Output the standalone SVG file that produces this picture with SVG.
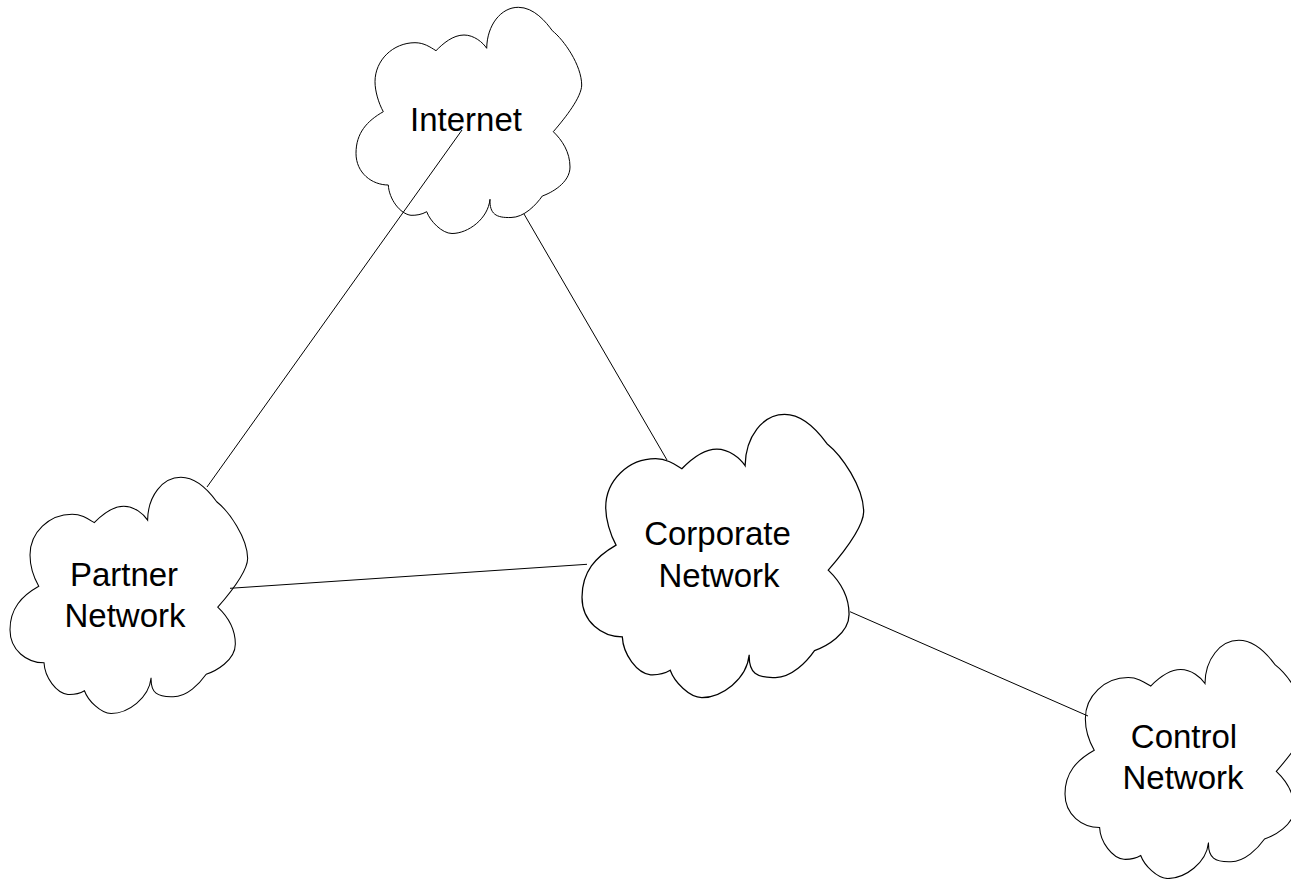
<svg xmlns="http://www.w3.org/2000/svg" width="1291" height="879" viewBox="0 0 1291 879">
<defs>
<style>
.cloud{fill:#ffffff;stroke:#000000;stroke-width:1;vector-effect:non-scaling-stroke;stroke-linejoin:miter}
.conn{stroke:#000000;stroke-width:1;fill:none}
.lbl{font-family:"Liberation Sans",Arial,sans-serif;font-size:33px;fill:#000000;text-anchor:middle}
</style>
<path id="cloudShape" d="M27.3,104.7 C22.5,96 19,84 19,74.7 C19,53.2 37,35.7 59,35.7 C68,35.7 74,40 80,43.7 C87,36.5 97,28 108,28 C118,28 127,35.5 130.7,41.3 C131,18 145,0.3 162.3,0.3 C178,0.3 190,15 196.3,23.7 C208,33 225.5,58 225.7,78 C225.5,90 210,110 197.3,124.7 C206,133 214,145 214,160 C214,176 195,186 186.3,189 C180,198 168,210.5 155,210.5 C140,211 133.5,207 134,192.3 C132,212 112,226.5 96,226.5 C86,226.5 74,214 70.7,204.7 C66,207.5 60,208.5 55,208.3 C44,207 33,192 32.3,178 C16,178 0,166 0,146.3 C0,126 11,114 27.3,104.7 Z"/>
</defs>
<rect width="1291" height="879" fill="#ffffff"/>
<g id="internet">
<use href="#cloudShape" class="cloud" transform="translate(356,7)"/>
<text class="lbl" x="466" y="131">Internet</text>
</g>
<g id="partner">
<use href="#cloudShape" class="cloud" transform="translate(10,477) scale(1.053,1.044)"/>
<text class="lbl" x="124" y="586">Partner</text>
<text class="lbl" x="125" y="627">Network</text>
</g>
<g id="corporate">
<use href="#cloudShape" class="cloud" transform="translate(582,414) scale(1.248,1.252)"/>
<text class="lbl" x="717.5" y="545">Corporate</text>
<text class="lbl" x="719" y="587">Network</text>
</g>
<g id="control">
<use href="#cloudShape" class="cloud" transform="translate(1065,640) scale(1.071,1.053)"/>
<text class="lbl" x="1184" y="748">Control</text>
<text class="lbl" x="1183" y="789">Network</text>
</g>
<g id="connectors">
<line class="conn" x1="207" y1="487" x2="462" y2="130"/>
<line class="conn" x1="524" y1="214" x2="667" y2="460"/>
<line class="conn" x1="230" y1="588.3" x2="587" y2="564.3"/>
<line class="conn" x1="850" y1="611.7" x2="1088" y2="716"/>
</g>
</svg>
